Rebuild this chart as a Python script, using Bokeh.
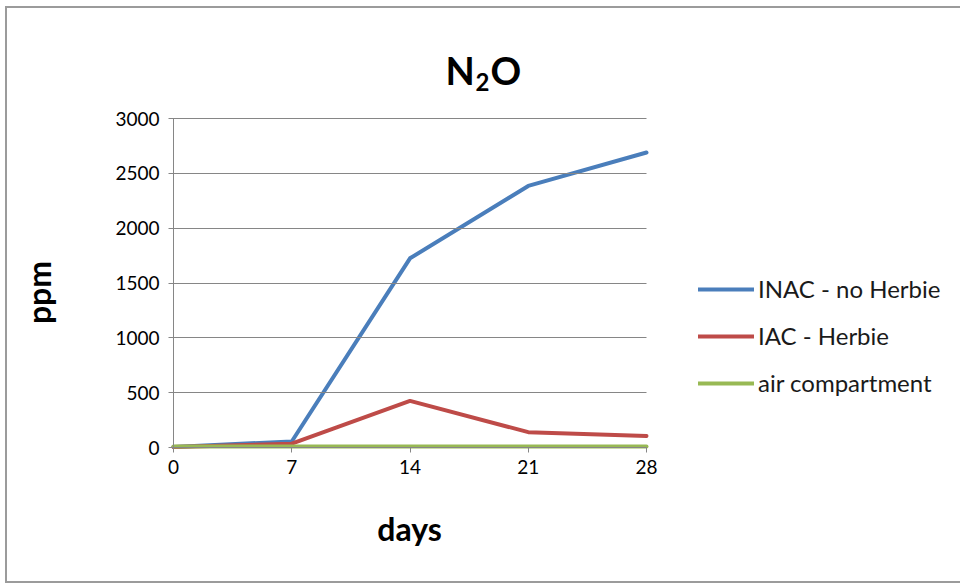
import math

from bokeh.plotting import figure
from bokeh.models import Range1d, FixedTicker, Legend, LegendItem, Label
from bokeh.embed import file_html
from bokeh.resources import INLINE

# sampling days and measured N2O concentrations (ppm)
days = [0, 7, 14, 21, 28]
inac_no_herbie = [5, 55, 1725, 2385, 2690]
iac_herbie = [5, 35, 425, 140, 105]
air_compartment = [8, 8, 8, 8, 8]
y_ticks = [0, 500, 1000, 1500, 2000, 2500, 3000]

series_names = ["INAC - no Herbie", "IAC - Herbie", "air compartment"]
series_colors = ["#4A7EBB", "#BE4B48", "#98B954"]

FONT = "Lato"
AXIS_GREY = "#868686"
W, H = 960, 584
# pixel box of the plotting area inside the canvas
LEFT, RIGHT, TOP, BOTTOM = 173, 646, 118, 447

x_per_px = (days[-1] - days[0]) / (RIGHT - LEFT)
y_per_px = (y_ticks[-1] - y_ticks[0]) / (BOTTOM - TOP)


def dx(sx):
    return days[0] + (sx - LEFT) * x_per_px


def dy(sy):
    return y_ticks[0] + (BOTTOM - sy) * y_per_px


# the frame spans the whole canvas so titles and legend are never clipped;
# axes sit at the data origin via fixed_location
p = figure(
    width=W, height=H,
    x_range=Range1d(dx(0), dx(W)),
    y_range=Range1d(dy(H), dy(0)),
    output_backend="svg", toolbar_location=None,
    min_border=0,
)
p.border_fill_color = None
p.background_fill_color = None
p.outline_line_color = None
p.grid.visible = False

# chart-area frame drawn on the host element (left, top and bottom edges)
grey = "#9b9b9b"
p.styles = {
    "background": (
        f"linear-gradient({grey},{grey}) 5px 6px / 2px 577px no-repeat, "
        f"linear-gradient({grey},{grey}) 5px 6px / 955px 2px no-repeat, "
        f"linear-gradient({grey},{grey}) 5px 581px / 955px 2px no-repeat, #ffffff"
    )
}

for ax in (p.xaxis, p.yaxis):
    ax.axis_line_color = AXIS_GREY
    ax.axis_line_width = 1
    ax.major_tick_line_color = AXIS_GREY
    ax.major_tick_line_width = 1
    ax.major_tick_out = 5
    ax.minor_tick_line_color = None
    ax.major_label_text_font = FONT
    ax.major_label_text_font_size = "19px"
    ax.major_label_text_color = "#000000"

p.xaxis.fixed_location = y_ticks[0]
p.xaxis.bounds = (days[0], days[-1])
p.xaxis.ticker = FixedTicker(ticks=days)
p.xaxis.major_tick_in = 0
p.xaxis.major_label_standoff = 7

# y ticks run inward across the plotting area and serve as horizontal gridlines
p.yaxis.fixed_location = days[0]
p.yaxis.bounds = (y_ticks[0], y_ticks[-1])
p.yaxis.ticker = FixedTicker(ticks=y_ticks)
p.yaxis.major_tick_in = RIGHT - LEFT
p.yaxis.major_label_standoff = 9

renderers = []
for ys, color in zip([inac_no_herbie, iac_herbie, air_compartment], series_colors):
    r = p.line(days, ys, line_color=color, line_width=4, line_join="round", line_cap="round")
    renderers.append(r)

legend = Legend(
    items=[LegendItem(label=n, renderers=[r]) for n, r in zip(series_names, renderers)],
    location=(698, H - 397),
    orientation="vertical",
    padding=0, margin=0, spacing=18,
    glyph_width=56, glyph_height=20, label_height=20,
    label_standoff=4,
    label_text_font=FONT, label_text_font_size="24px", label_text_color="#1a1a1a",
    border_line_color=None, background_fill_alpha=0,
)
p.add_layout(legend, "center")


def add_text(sx, sy, text, size, align="left", angle=0.0):
    p.add_layout(Label(
        x=dx(sx), y=dy(sy), text=text,
        text_font=FONT, text_font_size=f"{size}px", text_font_style="bold",
        text_color="#000000", text_align=align, text_baseline="alphabetic",
        angle=angle,
    ))


# title N2O with a subscript 2
add_text(445, 69, "N", 38)
add_text(475, 81, "2", 24)
add_text(490, 69, "O", 38)

# axis titles
add_text(409, 528, "days", 32, align="center")
add_text(38, 292, "ppm", 32, align="center", angle=math.pi / 2)

open("out.html", "w").write(file_html(p, INLINE))
